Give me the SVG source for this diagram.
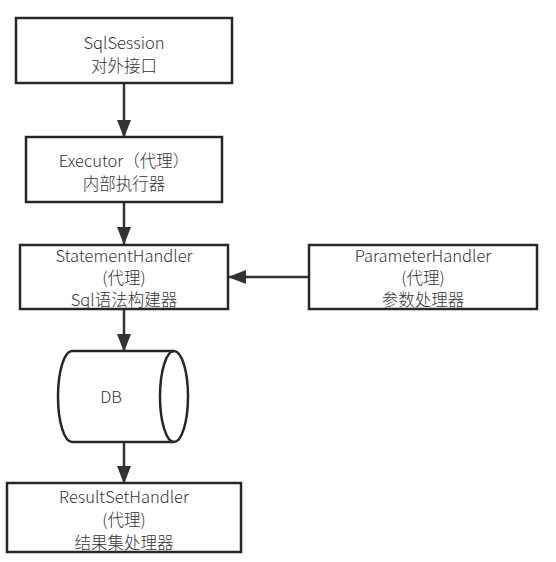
<svg xmlns="http://www.w3.org/2000/svg" width="556" height="562" viewBox="0 0 556 562">
<defs>
<style>
.box{fill:#fff;stroke:#23282d;stroke-width:2.5}
.t{font-family:"Noto Sans CJK SC","Noto Sans",sans-serif;font-size:16.5px;font-weight:300;fill:#333;text-anchor:middle}
.c{stroke:#333;stroke-width:2.5;fill:none}
</style>
<marker id="ah" viewBox="0 0 18 14" refX="17" refY="7" markerWidth="18" markerHeight="14" markerUnits="userSpaceOnUse" orient="auto">
<path d="M0,0 L18,7 L0,14 Z" fill="#333"/>
</marker>
</defs>
<rect width="556" height="562" fill="#fff"/>
<g id="connectors">
<line class="c" x1="124" y1="83" x2="124" y2="137" marker-end="url(#ah)"/>
<line class="c" x1="124" y1="202" x2="124" y2="244" marker-end="url(#ah)"/>
<line class="c" x1="309" y1="277" x2="229" y2="277" marker-end="url(#ah)"/>
<line class="c" x1="124" y1="309" x2="124" y2="351" marker-end="url(#ah)"/>
<line class="c" x1="124" y1="442" x2="124" y2="483" marker-end="url(#ah)"/>
</g>
<g id="sqlsession">
<rect class="box" x="16" y="18" width="216" height="65"/>
<text class="t" x="124" y="49">SqlSession</text>
<text class="t" x="124" y="72">对外接口</text>
</g>
<g id="executor">
<rect class="box" x="26" y="137" width="196" height="65"/>
<text class="t" x="124" y="167">Executor（代理）</text>
<text class="t" x="124" y="190">内部执行器</text>
</g>
<g id="statementhandler">
<rect class="box" x="20" y="245" width="208" height="64"/>
<text class="t" x="124" y="262">StatementHandler</text>
<text class="t" x="124" y="284">(代理)</text>
<text class="t" x="124" y="306">Sql语法构建器</text>
</g>
<g id="parameterhandler">
<rect class="box" x="309" y="245" width="228" height="64"/>
<text class="t" x="423" y="262">ParameterHandler</text>
<text class="t" x="423" y="284">(代理)</text>
<text class="t" x="423" y="306">参数处理器</text>
</g>
<g id="db">
<path class="box" d="M72,351 L174,351 A14,45.5 0 0 1 174,442 L72,442 A14,45.5 0 0 1 72,351 Z"/>
<path class="box" style="fill:none" d="M174,351 A14,45.5 0 0 0 174,442"/>
<text class="t" x="111" y="403">DB</text>
</g>
<g id="resultsethandler">
<rect class="box" x="7" y="483" width="234" height="69"/>
<text class="t" x="124" y="503">ResultSetHandler</text>
<text class="t" x="124" y="526">(代理)</text>
<text class="t" x="124" y="549">结果集处理器</text>
</g>
</svg>
